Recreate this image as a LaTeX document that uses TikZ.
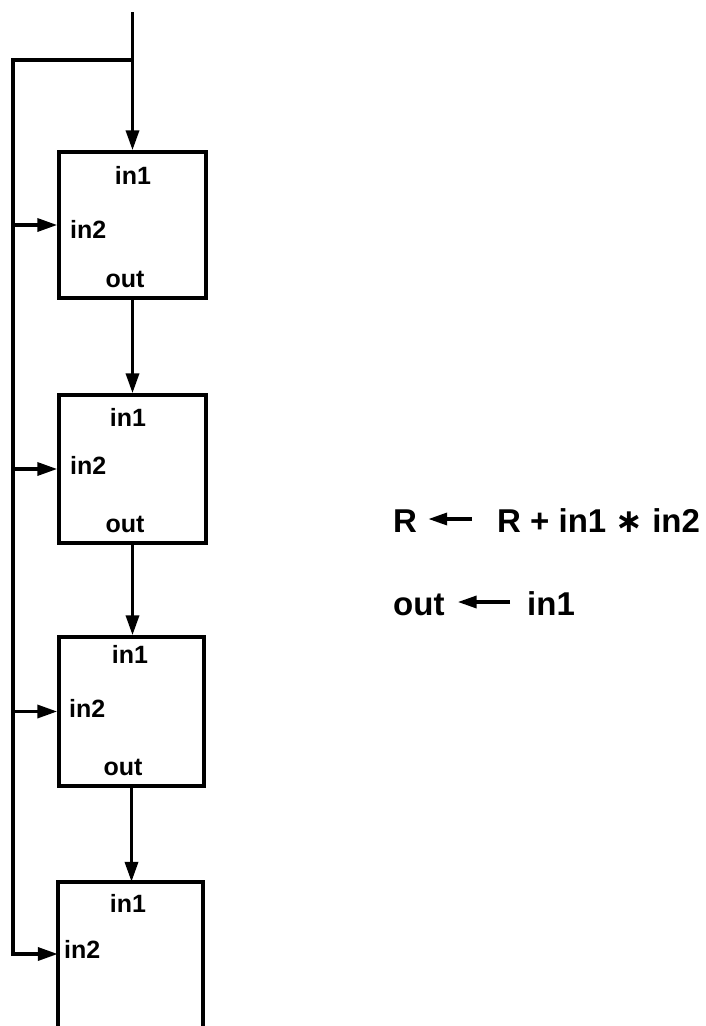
\documentclass[tikz,border=0pt]{standalone}
\usepackage{fontspec}
\setmainfont{Liberation Sans}
\newfontfamily\symfont{DejaVu Sans}
\usetikzlibrary{arrows.meta}
\tikzset{
  blk/.style={draw, line width=3.5pt, inner sep=0pt},
  wire/.style={line width=3.5pt},
  conn/.style={wire, -{Triangle[length=20pt,width=13pt]}},
  lbl/.style={inner sep=0pt, font=\fontsize{25}{25}\selectfont\bfseries},
  eqtext/.style={inner sep=0pt, text height=26pt, text depth=0pt, font=\fontsize{33}{33}\selectfont\bfseries},
  eqarrow/.style={line width=3.5pt, -{Triangle[length=19pt,width=12pt]}}
}
\begin{document}
\begin{tikzpicture}[x=1pt,y=-1pt]
\useasboundingbox (0,0) rectangle (706,1026);
% boxes
\node[blk, minimum width=147pt, minimum height=146pt] (b1) at (132.5,225) {};
\node[blk, minimum width=147pt, minimum height=148pt] (b2) at (132.5,469) {};
\node[blk, minimum width=145pt, minimum height=149pt] (b3) at (131.5,711.5) {};
\node[inner sep=0pt, minimum width=145pt, minimum height=144pt] (b4) at (130.5,954) {};
\draw[wire] (b4.south west) -- (b4.north west) -- (b4.north east) -- (b4.south east);
% labels
\node[lbl, anchor=base] (b1i1) at (133,184) {in1};
\node[lbl, anchor=base west] (b1i2) at (70,238) {in2};
\node[lbl, anchor=base] (b1o) at (125,287) {out};
\node[lbl, anchor=base] (b2i1) at (128,426) {in1};
\node[lbl, anchor=base west] (b2i2) at (70,474) {in2};
\node[lbl, anchor=base] (b2o) at (125,532) {out};
\node[lbl, anchor=base] (b3i1) at (130,663) {in1};
\node[lbl, anchor=base west] (b3i2) at (69,717) {in2};
\node[lbl, anchor=base] (b3o) at (123,775) {out};
\node[lbl, anchor=base] (b4i1) at (128,912) {in1};
\node[lbl, anchor=base west] (b4i2) at (64,958) {in2};
% connectors
\coordinate (top) at (132.5,12);
\coordinate (j0) at (132.5,60);
\coordinate (c0) at (13,60);
\draw[conn] (top) -- (b1.north);
\draw[conn] (b1.south) -- (b2.north);
\draw[conn] (b2.south) -- (b2.south |- b3.north);
\draw[conn] (b3.south) -- (b3.south |- b4.north);
\draw[conn] (j0) -- (c0) |- (b4.west);
\draw[conn] (b1.west -| c0) -- (b1.west);
\draw[conn] (b2.west -| c0) -- (b2.west);
\draw[conn] (b3.west -| c0) -- (b3.west);
% equations
\node[eqtext, anchor=base west] (l1) at (393,532) {R};
\node[eqtext, anchor=base west] (r1) at (497,532) {R + in1 {\symfont\bfseries ∗} in2};
\draw[eqarrow, shorten <=25pt, shorten >=11pt] (r1.west) -- (l1.east);
\node[eqtext, anchor=base west] (l2) at (393,615) {out};
\node[eqtext, anchor=base west] (r2) at (527,615) {in1};
\draw[eqarrow, shorten <=17pt, shorten >=13pt] (r2.west) -- (l2.east);
\end{tikzpicture}
\end{document}
